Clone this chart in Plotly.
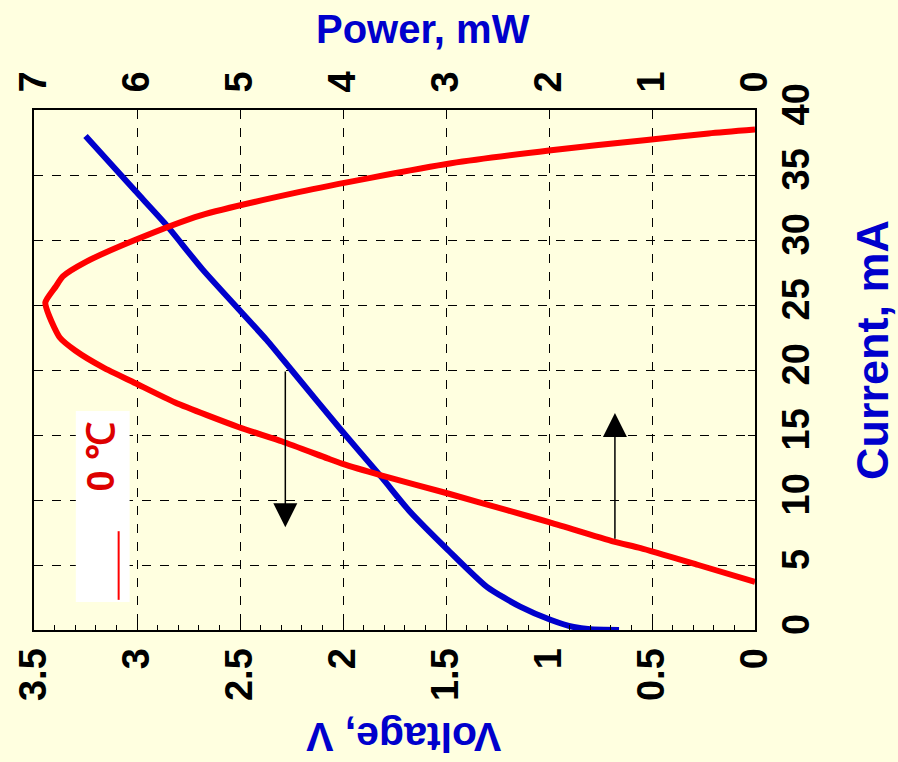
import plotly.graph_objects as go

# ---- data ----
red_current = [3.7, 5.0, 6.3, 6.8, 8.3, 9.2, 10.5, 11.9, 12.8, 13.2, 14.5, 15.6, 17.5, 19.0,
               20.2, 21.5, 22.5, 24.1, 25.2, 26.4, 27.2, 28.3, 30.0, 31.9, 33.7, 34.8, 35.9,
               36.9, 37.7, 38.2, 38.5]
red_power = [0.0, 0.55, 1.11, 1.37, 2.0, 2.40, 2.98, 3.63, 4.01, 4.15, 4.59, 5.01, 5.63, 6.02,
             6.33, 6.60, 6.75, 6.85, 6.89, 6.79, 6.72, 6.50, 6.02, 5.38, 4.42, 3.72, 2.95,
             1.98, 1.05, 0.45, 0.0]

blue_current = [0.0, 0.05, 0.23, 0.77, 1.8, 3.3, 6.15, 9.2, 11.7, 15.4, 20.0, 22.3, 27.7,
                31.2, 33.8, 38.0]
blue_voltage = [0.66, 0.80, 0.88, 0.99, 1.14, 1.30, 1.49, 1.68, 1.81, 2.01, 2.25, 2.37, 2.68,
                2.86, 3.01, 3.25]

voltage_ticks = [0, 0.5, 1, 1.5, 2, 2.5, 3, 3.5]
power_ticks = [0, 1, 2, 3, 4, 5, 6, 7]
current_ticks = [0, 5, 10, 15, 20, 25, 30, 35, 40]

legend_label = "0 ℃"

BG = "#FFFFE0"
BLUE = "#0000CC"
RED = "#FF0000"
FONT = "Liberation Sans, Arial, sans-serif"

fig = go.Figure()
fig.add_trace(go.Scatter(x=blue_voltage, y=blue_current, mode="lines", xaxis="x", yaxis="y",
                         line=dict(color=BLUE, width=6, shape="spline", smoothing=0.6),
                         showlegend=False))
fig.add_trace(go.Scatter(x=red_power, y=red_current, mode="lines", xaxis="x2", yaxis="y",
                         line=dict(color=RED, width=6, shape="spline", smoothing=0.6),
                         showlegend=False))

tickfont = dict(family=FONT, size=38, color="black", weight="bold")

fig.update_layout(
    width=898, height=762,
    margin=dict(l=31, r=143, t=110, b=132),
    paper_bgcolor=BG, plot_bgcolor=BG,
    showlegend=False,
    xaxis=dict(range=[3.5, 0], tickvals=voltage_ticks, ticktext=[f"{v:g}" for v in voltage_ticks],
               tickangle=-90, tickfont=tickfont, side="bottom",
               showgrid=True, gridcolor="black", griddash="dash", gridwidth=1,
               showline=True, linecolor="black", linewidth=2, mirror=False,
               ticks="inside", ticklen=7, tickcolor="black",
               minor=dict(ticks="inside", dtick=0.1, ticklen=5, tickcolor="black", showgrid=False),
               zeroline=False, ticklabelstandoff=1),
    xaxis2=dict(range=[7, 0], tickvals=power_ticks, ticktext=[str(v) for v in power_ticks],
                tickangle=-90, tickfont=tickfont, side="top", overlaying="x", anchor="y",
                showgrid=False, showline=True, linecolor="black", linewidth=2,
                ticks="inside", ticklen=7, tickcolor="black", zeroline=False,
                ticklabelstandoff=8),
    yaxis=dict(range=[0, 40], tickvals=current_ticks, ticktext=[str(v) for v in current_ticks],
               tickangle=-90, tickfont=tickfont, side="right",
               showgrid=True, gridcolor="black", griddash="dash", gridwidth=1,
               showline=True, linecolor="black", linewidth=2, mirror=True,
               ticks="inside", ticklen=7, tickcolor="black", zeroline=False,
               ticklabelstandoff=6),
)

# axis titles
fig.add_annotation(text="Power, mW", xref="paper", yref="paper", x=0.539, y=1.156,
                   xanchor="center", yanchor="middle",
                   showarrow=False, font=dict(family=FONT, size=40, color=BLUE, weight="bold"))
fig.add_annotation(text="Voltage, V", xref="paper", yref="paper", x=0.512, y=-0.206,
                   xanchor="center", yanchor="middle",
                   textangle=180, showarrow=False,
                   font=dict(family=FONT, size=41, color=BLUE, weight="bold"))
fig.add_annotation(text="Current, mA", xref="paper", yref="paper", x=1.162, y=0.538,
                   xanchor="center", yanchor="middle",
                   textangle=-90, showarrow=False,
                   font=dict(family=FONT, size=45, color=BLUE, weight="bold"))

# arrows
fig.add_annotation(x=2.28, y=7.9, ax=2.28, ay=20.0, xref="x", yref="y", axref="x", ayref="y",
                   text="", showarrow=True, arrowhead=2, arrowsize=3.2, arrowwidth=1.5,
                   arrowcolor="black")
fig.add_annotation(x=0.68, y=16.7, ax=0.68, ay=6.9, xref="x", yref="y", axref="x", ayref="y",
                   text="", showarrow=True, arrowhead=2, arrowsize=3.2, arrowwidth=1.5,
                   arrowcolor="black")

# legend box
fig.add_shape(type="rect", xref="paper", yref="paper", x0=0.058, x1=0.1326, y0=0.054, y1=0.421,
              fillcolor="white", line=dict(width=0), layer="above")
fig.add_shape(type="line", xref="paper", yref="paper", x0=0.1174, x1=0.1174, y0=0.058, y1=0.19,
              line=dict(color=RED, width=2), layer="above")
fig.add_annotation(text=legend_label, xref="paper", yref="paper", x=0.0925, y=0.333,
                   xanchor="center", yanchor="middle",
                   textangle=-90, showarrow=False,
                   font=dict(family=FONT, size=38, color="#DD0000", weight="bold"))

fig.write_html("out.html")
